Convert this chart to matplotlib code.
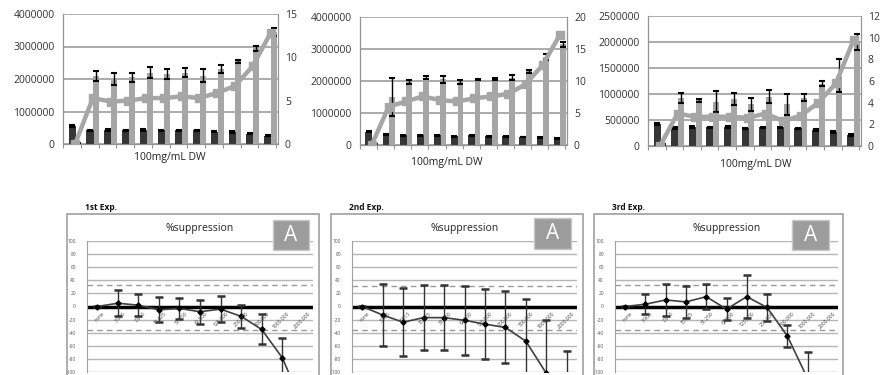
import numpy as np
import matplotlib.pyplot as plt
from matplotlib.patches import Rectangle

plt.rcParams['font.family'] = ['Open Sans', 'DejaVu Sans']

W, H = 883, 375

# ---- top row: control (dark), treated (light), fold on right axis (line) ----
dark1 = [550000, 420000, 430000, 420000, 430000, 420000, 420000, 420000, 380000, 370000, 320000, 260000]
dark1_err = [40000, 20000, 25000, 20000, 25000, 20000, 20000, 25000, 20000, 20000, 20000, 20000]
light1 = [20000, 2100000, 2000000, 2050000, 2200000, 2150000, 2200000, 2100000, 2300000, 2550000, 2950000, 3450000]
light1_err = [10000, 150000, 180000, 150000, 180000, 150000, 150000, 200000, 130000, 50000, 80000, 120000]
fold1 = [0, 5.3, 4.9, 5.0, 5.3, 5.3, 5.5, 5.3, 5.9, 6.7, 9.0, 12.8]

dark2 = [420000, 320000, 300000, 300000, 300000, 280000, 300000, 280000, 280000, 250000, 220000, 200000]
dark2_err = [20000, 20000, 15000, 15000, 15000, 15000, 15000, 15000, 15000, 15000, 15000, 15000]
light2 = [20000, 1500000, 1970000, 2100000, 2050000, 1970000, 2050000, 2070000, 2100000, 2300000, 2750000, 3150000]
light2_err = [10000, 600000, 50000, 50000, 100000, 50000, 10000, 30000, 80000, 50000, 100000, 80000]
fold2 = [0, 6.0, 6.8, 7.6, 7.0, 6.8, 7.3, 7.6, 8.0, 9.5, 12.5, 17.2]

dark3 = [420000, 350000, 370000, 360000, 370000, 340000, 360000, 360000, 340000, 310000, 270000, 210000]
dark3_err = [15000, 15000, 15000, 15000, 15000, 15000, 15000, 15000, 15000, 15000, 15000, 15000]
light3 = [20000, 920000, 880000, 850000, 900000, 800000, 950000, 800000, 930000, 1200000, 1350000, 2000000]
light3_err = [10000, 100000, 30000, 200000, 120000, 130000, 130000, 200000, 70000, 50000, 320000, 150000]
fold3 = [0, 3.0, 2.7, 2.7, 2.7, 2.6, 3.0, 2.3, 2.8, 4.0, 5.8, 9.8]

# ---- bottom row: % suppression ----
conc_labels = ['none', '3.906', '7.813', '15.625', '31.250', '62.500', '125.000',
               '250.000', '500.000', '1000.000', '2000.000']
supp1 = [0, 5, 2, -5, -3, -8, -4, -15, -35, -78, -150]
supp1_err = [1, 20, 17, 19, 16, 18, 20, 18, 23, 30, 40]
supp2 = [0, -13, -24, -17, -17, -21, -27, -32, -53, -102, -135]
supp2_err = [1, 47, 52, 50, 50, 53, 53, 55, 64, 81, 67]
supp3 = [0, 3.5, 10, 7, 15, -4, 15, -1.5, -45, -110, np.nan]
supp3_err = [1, 15, 25, 24, 19, 17, 33, 21, 17, 40, np.nan]
thresholds = [(33, -36), (31.5, -36), (32.5, -36)]
exp_names = ['1st Exp.', '2nd Exp.', '3rd Exp.']

DARK = '#363636'
LIGHT = '#a6a6a6'
GRID = '#949494'


def px_axes(fig, x0, y0, x1, y1):
    return fig.add_axes([x0 / W, 1 - y1 / H, (x1 - x0) / W, (y1 - y0) / H])


def top_chart(fig, box, dark, dark_err, light, light_err, fold, ymax, ystep, rmax, rstep, xlab_pos):
    ax = px_axes(fig, *box)
    x = np.arange(len(dark))
    ax.bar(x + 0.37, light, width=0.34, color=LIGHT, zorder=2)
    ax.errorbar(x + 0.37, light, yerr=light_err, fmt='none', ecolor='black',
                elinewidth=1, capsize=2.5, capthick=1.5, zorder=3)
    ax.bar(x + 0.02, dark, width=0.4, color=DARK, zorder=4)
    ax.errorbar(x + 0.02, dark, yerr=dark_err, fmt='none', ecolor='black',
                elinewidth=1, capsize=2.5, capthick=1.5, zorder=5)
    ax.set_xlim(-0.5, len(dark) - 0.4)
    ax.set_ylim(0, ymax)
    yt = np.arange(0, ymax + 1, ystep)
    ax.set_yticks(yt)
    ax.set_yticklabels([f'{int(v)}' for v in yt])
    ax.yaxis.grid(True, color=GRID, lw=1.1)
    ax.set_axisbelow(True)
    ax.set_xticks(np.arange(len(dark) + 1) - 0.5)
    ax.set_xticklabels([])
    ax.tick_params(axis='x', length=3, color=GRID)
    ax.tick_params(axis='y', length=0, pad=6, labelsize=7.5, labelcolor='#333333')
    for s in ax.spines.values():
        s.set_color(GRID)
    ax.spines['top'].set_visible(False)

    ax2 = ax.twinx()
    ax2.plot(x + 0.18, fold, color=LIGHT, lw=3.2, marker='s', ms=5.5, zorder=6)
    ax2.set_ylim(0, rmax)
    rt = np.arange(0, rmax + 0.1, rstep)
    ax2.set_yticks(rt)
    ax2.set_yticklabels([f'{int(v)}' for v in rt])
    ax2.tick_params(axis='y', length=0, pad=5, labelsize=7.5, labelcolor='#333333')
    for s in ax2.spines.values():
        s.set_color(GRID)
    ax2.spines['top'].set_visible(False)
    fig.text(xlab_pos[0] / W, 1 - xlab_pos[1] / H, '100mg/mL DW', ha='center', va='center',
             fontsize=7.5, color='#222222')


def bottom_panel(fig, frame, plot, supp, err, thr, name, abox):
    fx0, fy0, fx1 = frame
    fig.patches.append(Rectangle((fx0 / W, -0.05), (fx1 - fx0) / W, 1 - fy0 / H + 0.05,
                                 transform=fig.transFigure, fill=False, ec='#a0a0a0', lw=1.2))
    fig.text((fx0 + 18) / W, 1 - (fy0 - 6) / H, name, ha='left', va='center',
             fontsize=6, fontweight='bold', color='#111111')
    fig.text((plot[0] + plot[2]) / 2 / W, 1 - (fy0 + 14) / H, '%suppression', ha='center',
             va='center', fontsize=7.5, color='#222222')

    ax = px_axes(fig, *plot)
    x = np.arange(len(supp))
    ax.set_xlim(-0.5, len(supp) - 0.5)
    ax.set_ylim(-100, 100)
    yt = np.arange(-100, 101, 20)
    ax.set_yticks(yt)
    ax.set_yticklabels([str(v) for v in yt])
    ax.yaxis.grid(True, color='#b5b5b5', lw=1)
    ax.set_axisbelow(True)
    ax.set_xticks([])
    ax.tick_params(axis='y', length=0, pad=8, labelsize=3.5, labelcolor='#555555')
    for s in ['top', 'right', 'bottom']:
        ax.spines[s].set_visible(False)
    ax.spines['left'].set_color('#a0a0a0')
    for t in thr:
        ax.axhline(t, color='#999999', lw=1, dashes=(4, 3), zorder=1)
    ax.axhline(0, color='black', lw=2.5, zorder=2)
    ax.errorbar(x, supp, yerr=err, fmt='none', ecolor='#333333', elinewidth=1,
                capsize=3, capthick=1.8, zorder=3)
    ax.plot(x, supp, color='#404040', lw=1.2, marker='D', ms=2.6, mfc='black', mec='black', zorder=4)
    for xi, lab in zip(x, conc_labels):
        ax.text(xi + 0.25, -7, lab, rotation=45, ha='right', va='top', fontsize=3.6,
                color='#444444', rotation_mode='anchor', zorder=5)

    ax0, ay0, ax1, ay1 = abox
    fig.patches.append(Rectangle((ax0 / W, 1 - ay1 / H), (ax1 - ax0) / W, (ay1 - ay0) / H,
                                 transform=fig.transFigure, fc='#9c9c9c', ec='#c8c8c8', lw=1, zorder=10))
    fig.text((ax0 + ax1) / 2 / W, 1 - (ay0 + ay1) / 2 / H, 'A', ha='center', va='center',
             fontsize=15, color='white', zorder=11)


fig = plt.figure(figsize=(W / 100, H / 100), dpi=100)

top_chart(fig, (63, 14, 278, 144), dark1, dark1_err, light1, light1_err, fold1,
          4000000, 1000000, 15, 5, (170, 157))
top_chart(fig, (360, 17, 567, 145), dark2, dark2_err, light2, light2_err, fold2,
          4000000, 1000000, 20, 5, (447, 163))
top_chart(fig, (648, 16, 861, 146), dark3, dark3_err, light3, light3_err, fold3,
          2500000, 500000, 12, 2, (756, 165))

bottom_panel(fig, (67, 214, 319), (87, 241, 313, 372), supp1, supp1_err, thresholds[0],
             exp_names[0], (273, 220, 309, 250))
bottom_panel(fig, (331, 214, 583), (352, 241, 577, 372), supp2, supp2_err, thresholds[1],
             exp_names[1], (534, 218, 571, 249))
bottom_panel(fig, (594, 214, 843), (615, 241, 838, 372), supp3, supp3_err, thresholds[2],
             exp_names[2], (792, 220, 829, 250))

fig.savefig('out.png', dpi=100)
